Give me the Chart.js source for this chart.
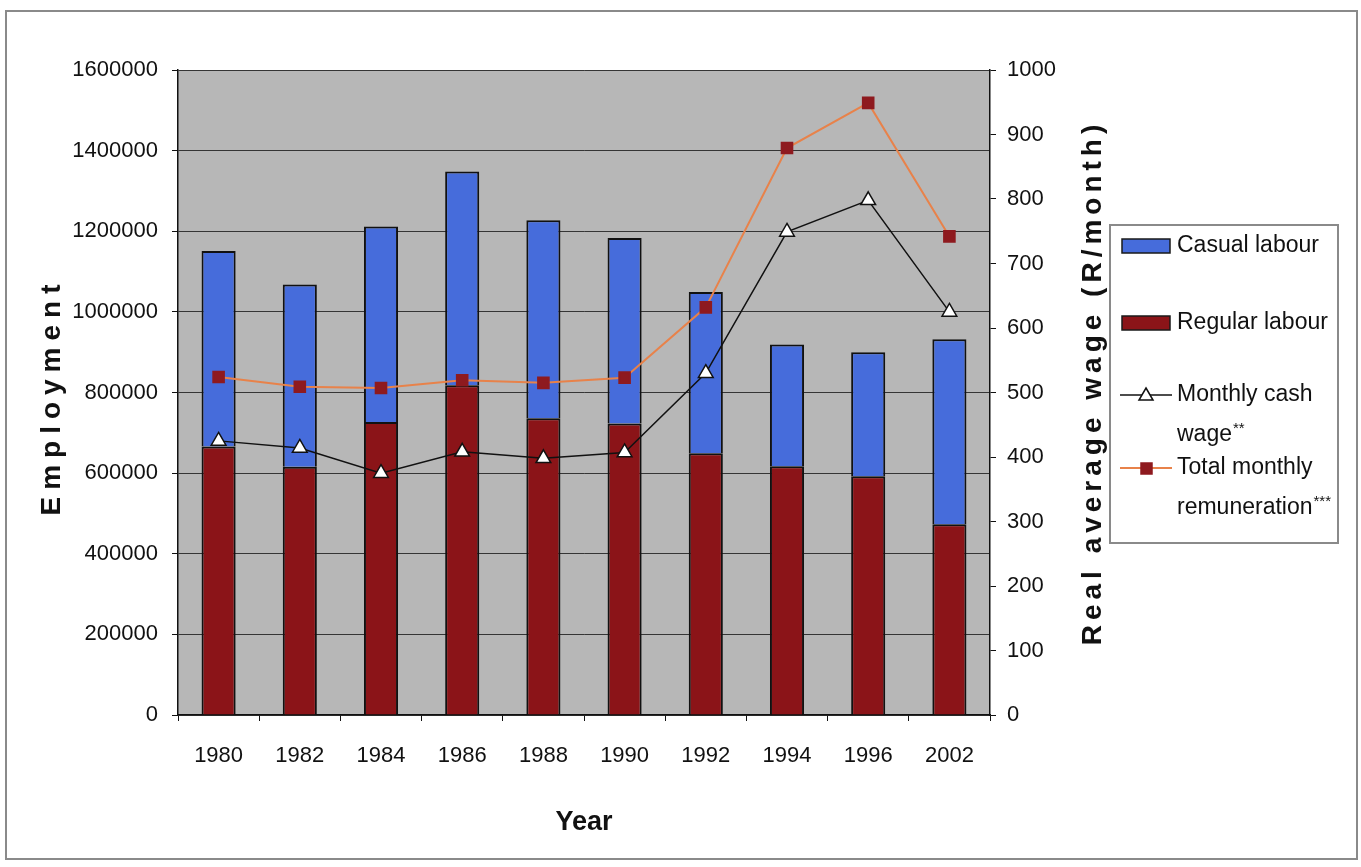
<!DOCTYPE html>
<html>
<head>
	<meta charset="UTF-8">
	<title>Employment and real average wage</title>
	<script src="https://cdn.jsdelivr.net/npm/chart.js"></script>
	<style>
		html, body { margin: 0; padding: 0; background: #fff; }
		.wrap { position: relative; width: 1361px; height: 867px; }
		.frame { position: absolute; left: 5px; top: 10px; width: 1349px; height: 846px; border: 2px solid #8a8a8a; pointer-events: none; }
	</style>
</head>
<body>
	<div class="wrap">
		<canvas id="wage-chart" width="1361" height="867"></canvas>
		<div class="frame"></div>
	</div>

	<script>
		// values
		const years = ['1980', '1982', '1984', '1986', '1988', '1990', '1992', '1994', '1996', '2002'];
		const regularLabour = [666000, 616000, 727000, 818000, 736000, 723000, 649000, 617000, 592000, 473000];
		const casualLabour = [485000, 452000, 485000, 530000, 491000, 460000, 400000, 302000, 308000, 459000];
		const cashWage = [425, 414, 375, 408, 398, 407, 530, 749, 798, 625];
		const totalRemuneration = [524, 509, 507, 519, 515, 523, 632, 879, 949, 742];
		const employmentTicks = [0, 200000, 400000, 600000, 800000, 1000000, 1200000, 1400000, 1600000];
		const wageTicks = [0, 100, 200, 300, 400, 500, 600, 700, 800, 900, 1000];
		const legendLines = [['Casual labour'], ['Regular labour'], ['Monthly cash', 'wage**'], ['Total monthly', 'remuneration***']];

		const face = "'Liberation Sans', Arial, sans-serif";
		const ink = '#111';

		// draw text one glyph at a time so the titles get their wide spacing
		function spacedText(ctx, text, x, y, spacing) {
			const chars = [...text];
			const widths = chars.map(ch => ctx.measureText(ch).width);
			const total = widths.reduce((a, b) => a + b, 0) + spacing * (chars.length - 1);
			let cx = x - total / 2;
			ctx.textAlign = 'left';
			chars.forEach((ch, i) => {
				ctx.fillText(ch, cx, y);
				cx += widths[i] + spacing;
			});
		}

		// legend line with the trailing asterisks set small and raised
		function noteText(ctx, text, x, y) {
			const m = text.match(/^(.*?)(\*+)$/);
			if (!m) { ctx.fillText(text, x, y); return; }
			ctx.fillText(m[1], x, y);
			const w = ctx.measureText(m[1]).width;
			const keep = ctx.font;
			ctx.font = '15px ' + face;
			ctx.fillText(m[2], x + w + 1, y - 6);
			ctx.font = keep;
		}

		const plotBackground = {
			id: 'plotBackground',
			beforeDraw(chart) {
				const { ctx, chartArea: a } = chart;
				ctx.save();
				ctx.fillStyle = '#fff';
				ctx.fillRect(0, 0, chart.width, chart.height);
				ctx.fillStyle = '#b7b7b7';
				ctx.fillRect(a.left, a.top, a.right - a.left, a.bottom - a.top);
				ctx.restore();
			}
		};

		const axisTitles = {
			id: 'axisTitles',
			afterDraw(chart) {
				const { ctx, chartArea: a } = chart;
				ctx.save();
				ctx.fillStyle = ink;
				ctx.textBaseline = 'alphabetic';

				ctx.font = 'bold 28px ' + face;
				ctx.save();
				ctx.translate(60, 400);
				ctx.rotate(-Math.PI / 2);
				spacedText(ctx, 'Employment', 0, 0, 7);
				ctx.restore();

				ctx.save();
				ctx.translate(1101, 385);
				ctx.rotate(-Math.PI / 2);
				spacedText(ctx, 'Real average wage (R/month)', 0, 0, 5);
				ctx.restore();

				ctx.font = 'bold 27px ' + face;
				ctx.textAlign = 'center';
				ctx.fillText('Year', (a.left + a.right) / 2, 830);
				ctx.restore();
			}
		};

		const boxLegend = {
			id: 'boxLegend',
			afterDraw(chart) {
				const ctx = chart.ctx;
				const order = [3, 2, 0, 1]; // casual, regular, cash wage, remuneration
				const rows = [246, 323, 395, 468];
				ctx.save();
				ctx.strokeStyle = '#8a8a8a';
				ctx.lineWidth = 2;
				ctx.strokeRect(1110, 225, 228, 318);
				ctx.font = '23px ' + face;
				ctx.textBaseline = 'middle';
				ctx.textAlign = 'left';
				order.forEach((di, i) => {
					const ds = chart.data.datasets[di];
					const y = rows[i];
					if (ds.type === 'bar') {
						ctx.fillStyle = ds.backgroundColor;
						ctx.fillRect(1122, y - 7, 48, 14);
						ctx.strokeStyle = '#1a1a1a';
						ctx.lineWidth = 1.5;
						ctx.strokeRect(1122, y - 7, 48, 14);
					} else {
						ctx.strokeStyle = ds.borderColor;
						ctx.lineWidth = ds.borderWidth;
						ctx.beginPath();
						ctx.moveTo(1120, y);
						ctx.lineTo(1172, y);
						ctx.stroke();
						ctx.fillStyle = ds.pointBackgroundColor;
						ctx.strokeStyle = ds.pointBorderColor;
						ctx.lineWidth = 1.5;
						ctx.beginPath();
						if (ds.pointStyle === 'triangle') {
							ctx.moveTo(1146, y - 7);
							ctx.lineTo(1153, y + 5);
							ctx.lineTo(1139, y + 5);
							ctx.closePath();
						} else {
							ctx.rect(1141, y - 5, 11, 11);
						}
						ctx.fill();
						ctx.stroke();
					}
					ctx.fillStyle = ink;
					legendLines[i].forEach((line, k) => noteText(ctx, line, 1177, y + k * 40));
				});
				ctx.restore();
			}
		};

		const tickFont = { family: face, size: 22 };

		const ctx = document.getElementById('wage-chart').getContext('2d');
		new Chart(ctx, {
			data: {
				labels: years,
				datasets: [{
					type: 'line',
					label: 'Monthly cash wage**',
					data: cashWage,
					yAxisID: 'y1',
					borderColor: '#111',
					borderWidth: 1.5,
					pointStyle: 'triangle',
					pointRadius: 8.5,
					pointBackgroundColor: '#fff',
					pointBorderColor: '#111',
					pointBorderWidth: 1.5,
					tension: 0,
					order: 0
				}, {
					type: 'line',
					label: 'Total monthly remuneration***',
					data: totalRemuneration,
					yAxisID: 'y1',
					borderColor: '#e8824a',
					borderWidth: 2,
					pointStyle: 'rect',
					pointRadius: 7.5,
					pointBackgroundColor: '#8e1a1f',
					pointBorderColor: '#8e1a1f',
					tension: 0,
					order: 0
				}, {
					type: 'bar',
					label: 'Regular labour',
					data: regularLabour,
					yAxisID: 'y',
					stack: 'employment',
					backgroundColor: '#8b1418',
					borderColor: '#111',
					borderWidth: 2,
					barPercentage: 0.42,
					categoryPercentage: 1,
					order: 1
				}, {
					type: 'bar',
					label: 'Casual labour',
					data: casualLabour,
					yAxisID: 'y',
					stack: 'employment',
					backgroundColor: '#466cdb',
					borderColor: '#111',
					borderWidth: 2,
					barPercentage: 0.42,
					categoryPercentage: 1,
					order: 1
				}]
			},
			options: {
				responsive: false,
				animation: false,
				devicePixelRatio: 1,
				layout: { padding: { left: 0, right: 291, top: 70, bottom: 72 } },
				plugins: { legend: { display: false }, tooltip: { enabled: false } },
				scales: {
					x: {
						stacked: true,
						grid: { offset: true, drawOnChartArea: false, tickLength: 6, color: ink },
						border: { color: ink, width: 1.5 },
						ticks: { font: tickFont, color: ink, padding: 22, maxRotation: 0 },
						afterFit: s => { s.height = 80; }
					},
					y: {
						stacked: true,
						position: 'left',
						min: 0,
						max: 1600000,
						afterBuildTicks: s => { s.ticks = employmentTicks.map(value => ({ value })); },
						ticks: { font: tickFont, color: ink, padding: 14, callback: v => String(v) },
						grid: { color: 'rgba(30,30,30,0.85)', lineWidth: 1, tickLength: 6, tickColor: ink },
						border: { color: ink, width: 1.5 },
						afterFit: s => { s.width = 178; }
					},
					y1: {
						position: 'right',
						min: 0,
						max: 1000,
						afterBuildTicks: s => { s.ticks = wageTicks.map(value => ({ value })); },
						ticks: { font: tickFont, color: ink, padding: 11, callback: v => String(v) },
						grid: { drawOnChartArea: false, tickLength: 6, color: ink },
						border: { color: ink, width: 1.5 },
						afterFit: s => { s.width = 80; }
					}
				}
			},
			plugins: [plotBackground, axisTitles, boxLegend]
		});
	</script>
</body>
</html>
